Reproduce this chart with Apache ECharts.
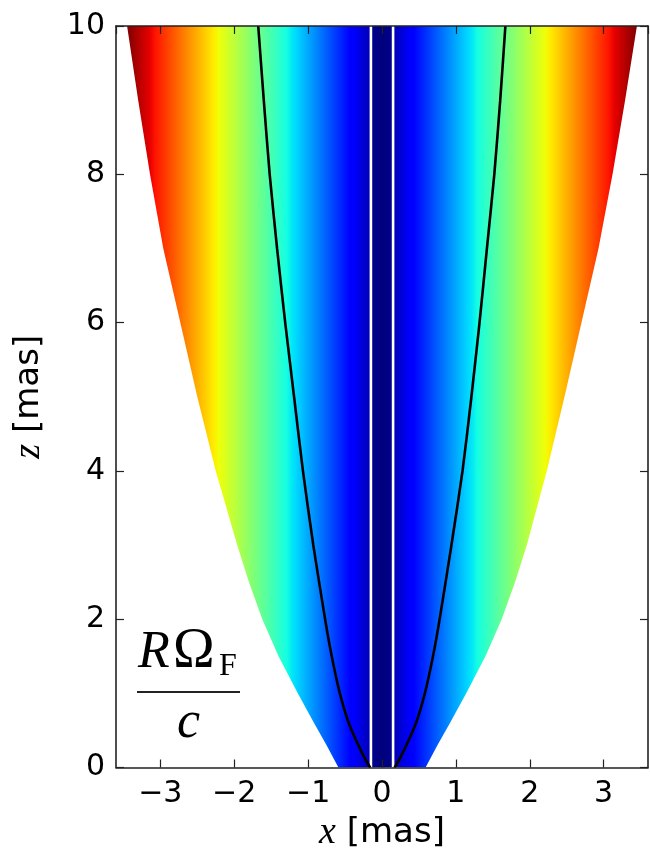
<!DOCTYPE html>
<html><head><meta charset="utf-8">
<script src="https://cdn.jsdelivr.net/npm/echarts@6/dist/echarts.min.js"></script>
<style>html,body{margin:0;padding:0;background:#fff}#c{width:650px;height:859px}</style>
</head><body><div id="c"></div>
<script>
// ---- data ----
const xRange = [-3.6, 3.6];
const zRange = [0, 10];
// outer boundary of the coloured jet region (x, z)
const outerX = [-3.45,-3.30,-3.14,-2.96,-2.73,-2.50,-2.25,-1.96,-1.80,-1.62,-1.40,-1.14,-0.92,-0.75,-0.59,
                 0.59,0.75,0.92,1.14,1.40,1.62,1.80,1.96,2.23,2.47,2.70,2.93,3.12,3.29,3.45];
const outerZ = [10,9,8,7,6,5,4,3,2.5,2,1.5,1,0.6,0.3,0,
                0,0.3,0.6,1,1.5,2,2.5,3,4,5,6,7,8,9,10];
// black field lines
const blackLeftX  = [-1.675,-1.60,-1.52,-1.42,-1.31,-1.19,-1.07,-0.93,-0.77,-0.68,-0.57,-0.45,-0.32,-0.22,-0.16];
const blackLeftZ  = [10,9,8,7,6,5,4,3,2,1.5,1,0.6,0.3,0.1,0];
const blackRightX = [1.67,1.60,1.52,1.42,1.32,1.21,1.09,0.94,0.78,0.69,0.58,0.46,0.33,0.23,0.17];
const blackRightZ = [10,9,8,7,6,5,4,3,2,1.5,1,0.6,0.3,0.1,0];
// white vertical lines
const whiteX = [-0.15, 0.15];
const whiteZ = [0, 10];
// colour scale: |x| at which jet reaches its top colour
const colorMaxX = 3.45;
const innerBandX = 0.15;

// ---- jet colormap (matplotlib) ----
const jetSeg = {
  r: [[0,0],[0.35,0],[0.66,1],[0.89,1],[1,0.5]],
  g: [[0,0],[0.125,0],[0.375,1],[0.64,1],[0.91,0],[1,0]],
  b: [[0,0.5],[0.11,1],[0.34,1],[0.65,0],[1,0]]
};
function seg(s, t){
  for (let i=1;i<s.length;i++){
    if (t<=s[i][0]){ const a=s[i-1], b=s[i]; return a[1]+(b[1]-a[1])*(t-a[0])/(b[0]-a[0]); }
  }
  return s[s.length-1][1];
}
function jet(t){
  const c = v => Math.round(Math.max(0,Math.min(1,v))*255);
  return 'rgb('+c(seg(jetSeg.r,t))+','+c(seg(jetSeg.g,t))+','+c(seg(jetSeg.b,t))+')';
}
const tStep = innerBandX/colorMaxX;
const keyT = [tStep,0.11,0.125,0.34,0.35,0.375,0.5,0.64,0.65,0.66,0.8,0.89,0.91,1];
const stops = [];
for (let i=keyT.length-1;i>=0;i--) stops.push({offset:(1-keyT[i])/2, color:jet(keyT[i])});
stops.push({offset:(1-tStep)/2, color:'#00008e'});
stops.push({offset:0.5, color:'#00007c'});
stops.push({offset:(1+tStep)/2, color:'#00008e'});
for (let i=0;i<keyT.length;i++) stops.push({offset:(1+keyT[i])/2, color:jet(keyT[i])});

const zip = (xs, zs) => xs.map((x,i)=>[x, zs[i]]);
const minus = v => String(v).replace('-', '\u2212');

const chart = echarts.init(document.getElementById('c'), null, {renderer:'canvas'});
const frame = {show:true, onZero:false, lineStyle:{color:'#222', width:1.6}};
const tick = {show:true, inside:true, length:8, lineStyle:{color:'#222', width:1.2}};
const tickFont = {fontFamily:'DejaVu Sans', fontSize:30, color:'#000'};
chart.setOption({
  animation:false,
  backgroundColor:'#fff',
  grid:{left:116, top:26, width:532, height:741.5, outerBoundsMode:'none', containLabel:false},
  xAxis:[
    {type:'value', min:xRange[0], max:xRange[1], splitNumber:7, position:'bottom', z:10,
     axisLine:frame, axisTick:tick, splitLine:{show:false},
     axisLabel:Object.assign({margin:12, showMinLabel:false, showMaxLabel:false, formatter:minus}, tickFont),
     name:'{i|x} [mas]', nameLocation:'middle', nameGap:46,
     nameTextStyle:{fontFamily:'DejaVu Sans', fontSize:34, color:'#000',
       rich:{i:{fontFamily:'Liberation Serif', fontStyle:'italic', fontSize:38, color:'#000'}}}},
    {type:'value', min:xRange[0], max:xRange[1], splitNumber:7, position:'top', z:10,
     axisLine:frame, axisTick:tick, splitLine:{show:false}, axisLabel:{show:false}}
  ],
  yAxis:[
    {type:'value', min:zRange[0], max:zRange[1], interval:2, position:'left', z:10,
     axisLine:frame, axisTick:tick, splitLine:{show:false},
     axisLabel:Object.assign({margin:11}, tickFont),
     name:'{i|z} [mas]', nameLocation:'middle', nameGap:68,
     nameTextStyle:{fontFamily:'DejaVu Sans', fontSize:34, color:'#000',
       rich:{i:{fontFamily:'Liberation Serif', fontStyle:'italic', fontSize:38, color:'#000'}}}},
    {type:'value', min:zRange[0], max:zRange[1], interval:2, position:'right', z:10,
     axisLine:frame, axisTick:tick, splitLine:{show:false}, axisLabel:{show:false}}
  ],
  series:[
    {type:'line', data:zip(outerX, outerZ), showSymbol:false, silent:true, smooth:false,
     lineStyle:{width:0, opacity:0},
     areaStyle:{origin:'end', opacity:1,
       color:{type:'linear', x:0, y:0, x2:1, y2:0, colorStops:stops}}},
    {type:'line', data:zip([whiteX[0],whiteX[0]], whiteZ), showSymbol:false, silent:true,
     lineStyle:{color:'#fff', width:2.6}},
    {type:'line', data:zip([whiteX[1],whiteX[1]], whiteZ), showSymbol:false, silent:true,
     lineStyle:{color:'#fff', width:2.6}},
    {type:'line', data:zip(blackLeftX, blackLeftZ), showSymbol:false, silent:true, smooth:0.2,
     lineStyle:{color:'#000', width:2.6}},
    {type:'line', data:zip(blackRightX, blackRightZ), showSymbol:false, silent:true, smooth:0.2,
     lineStyle:{color:'#000', width:2.6}}
  ],
  graphic:[
    {type:'text', x:138, y:653, style:{text:'R', font:'italic 52px "Liberation Serif"', fill:'#000', verticalAlign:'middle'}},
    {type:'text', x:173, y:652, style:{text:'\u03A9', font:'56px "Liberation Serif"', fill:'#000', verticalAlign:'middle'}},
    {type:'text', x:219, y:667, style:{text:'F', font:'32px "Liberation Serif"', fill:'#000', verticalAlign:'middle'}},
    {type:'line', shape:{x1:137, y1:692, x2:240, y2:692}, style:{stroke:'#222', lineWidth:2.2}},
    {type:'text', x:177, y:723, style:{text:'c', font:'italic 52px "Liberation Serif"', fill:'#000', verticalAlign:'middle'}}
  ]
});
</script></body></html>
